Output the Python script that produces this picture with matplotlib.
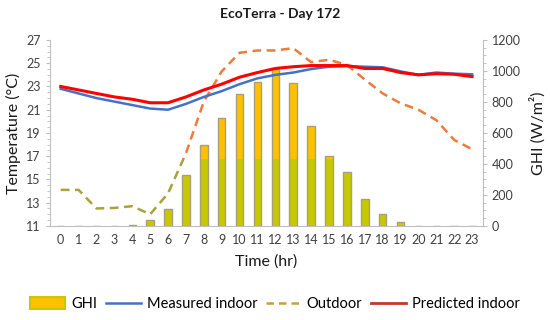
import numpy as np
import matplotlib
matplotlib.use("Agg")
import matplotlib.pyplot as plt
from matplotlib.patches import Rectangle, Patch
from matplotlib.lines import Line2D

plt.rcParams['font.family'] = ['Lato', 'DejaVu Sans']

# data
hours = list(range(24))
ghi = [0, 0, 0, 0, 5, 39, 112, 331, 523, 699, 852, 931, 1011, 920,
       645, 454, 346, 172, 75, 28, 0, 0, 0, 0]
measured = [22.8, 22.4, 22.0, 21.7, 21.4, 21.1, 21.0, 21.5, 22.1, 22.6, 23.2, 23.7,
            24.0, 24.2, 24.5, 24.7, 24.75, 24.7, 24.65, 24.3, 24.0, 24.2, 24.1, 24.05]
predicted = [23.0, 22.7, 22.4, 22.1, 21.9, 21.6, 21.6, 22.1, 22.7, 23.2, 23.8, 24.2,
             24.55, 24.7, 24.8, 24.8, 24.8, 24.55, 24.55, 24.2, 24.0, 24.1, 24.05, 23.85]
outdoor = [14.1, 14.1, 12.5, 12.55, 12.7, 12.0, 13.8, 17.25, 21.7, 24.3, 25.9, 26.1,
           26.1, 26.3, 25.1, 25.3, 24.85, 23.6, 22.4, 21.55, 21.0, 20.1, 18.4, 17.6]

ORANGE = '#FFC000'
OLIVE = '#C8C800'
split = 0.358  # axes fraction where the fill colour changes

fig = plt.figure(figsize=(5.5, 3.2), dpi=100)
ax = fig.add_axes([0.0909, 0.294, 0.787, 0.581])
ax2 = ax.twinx()
ax.set_zorder(ax2.get_zorder() + 1)
ax.patch.set_visible(False)

# GHI bars, two-tone like the original gradient
lo_clip = Rectangle((0, 0), 1, split, transform=ax2.transAxes)
hi_clip = Rectangle((0, split), 1, 1 - split, transform=ax2.transAxes)
for col, clip in [(OLIVE, lo_clip), (ORANGE, hi_clip)]:
    bars = ax2.bar(hours, ghi, width=0.42, color=col, edgecolor='#A8A078', linewidth=1)
    for b in bars:
        b.set_clip_path(clip)

# outdoor dashed line, olive low / orange high
lo_clip2 = Rectangle((0, 0), 1, split, transform=ax.transAxes)
hi_clip2 = Rectangle((0, split), 1, 1 - split, transform=ax.transAxes)
for col, clip in [('#A9A23A', lo_clip2), ('#F07A3A', hi_clip2)]:
    ln, = ax.plot(hours, outdoor, color=col, lw=1.8, dashes=(3.5, 2.2))
    ln.set_clip_path(clip)

ax.plot(hours, measured, color='#4472C4', lw=1.8)
ax.plot(hours, predicted, color='#FF0000', lw=2.2)

ax.set_xlim(-0.6, 23.6)
ax.set_ylim(11, 27)
ax2.set_ylim(0, 1200)
ax.set_yticks(np.arange(11, 28, 2))
ax.set_yticks(np.arange(11, 27.1, 0.5), minor=True)
ax2.set_yticks(np.arange(0, 1201, 200))
ax2.set_yticks(np.arange(0, 1201, 50), minor=True)
ax.set_xticks(hours)

for a in (ax, ax2):
    for s in a.spines.values():
        s.set_visible(False)
    a.tick_params(colors='#BFBFBF', labelcolor='#404040', labelsize=9)
    a.tick_params(which='minor', colors='#BFBFBF', length=2)
ax.spines['left'].set_visible(True)
ax.spines['bottom'].set_visible(True)
ax2.spines['right'].set_visible(True)
for s in (ax.spines['left'], ax.spines['bottom'], ax2.spines['right']):
    s.set_color('#BFBFBF')
ax.tick_params(axis='x', length=0, pad=6)
ax.tick_params(axis='y', length=3)
ax2.tick_params(axis='y', length=3)

ax.set_ylabel('Temperature (°C)', fontsize=11.5, color='#1a1a1a', labelpad=4)
ax2.set_ylabel('GHI (W/m²)', fontsize=11.5, color='#1a1a1a', labelpad=6)
ax.set_xlabel('Time (hr)', fontsize=11.5, color='#1a1a1a', labelpad=6)
fig.text(0.51, 0.955, 'EcoTerra - Day 172', ha='center', va='center',
         fontsize=10, fontweight='bold', color='#1a1a1a')

handles = [Patch(facecolor=ORANGE, edgecolor='#C8C800', linewidth=1.5),
           Line2D([], [], color='#4472C4', lw=1.8),
           Line2D([], [], color='#C8A040', lw=1.8, dashes=(3, 2)),
           Line2D([], [], color='#C0392B', lw=2)]
labels = ['GHI', 'Measured indoor', 'Outdoor', 'Predicted indoor']
fig.legend(handles, labels, loc='center', bbox_to_anchor=(0.5, 0.05), ncol=4,
           frameon=False, fontsize=10.5, handlelength=2.4, handleheight=0.8,
           handletextpad=0.4, columnspacing=0.6)

fig.savefig('out.png', dpi=100)
